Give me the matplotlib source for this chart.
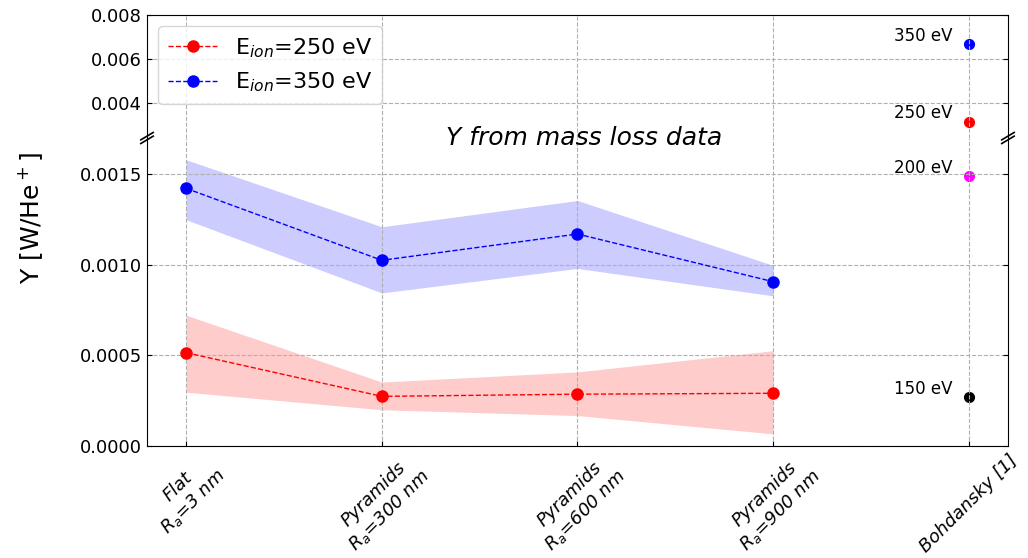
import matplotlib
matplotlib.use("Agg")
import matplotlib.pyplot as plt
import numpy as np

# datos
categorias = ["Flat\n$R_a$=3 nm", "Pyramids\n$R_a$=300 nm", "Pyramids\n$R_a$=600 nm",
              "Pyramids\n$R_a$=900 nm", "Bohdansky [1]"]
x_med = [0, 1, 2, 3]

y_250 = [0.000515, 0.000274, 0.000286, 0.000291]
y_250_sup = [0.000722, 0.000353, 0.000409, 0.000526]
y_250_inf = [0.000297, 0.000200, 0.000168, 0.000067]

y_350 = [0.001422, 0.001025, 0.001170, 0.000907]
y_350_sup = [0.001580, 0.001210, 0.001355, 0.000997]
y_350_inf = [0.001249, 0.000845, 0.000980, 0.000829]

# Bohdansky
bohd_energias = ["150 eV", "200 eV", "250 eV", "350 eV"]
bohd_valores = [0.00027, 0.00149, 0.00314, 0.00668]
bohd_colores = ["black", "magenta", "red", "blue"]

fig = plt.figure(figsize=(10.28, 5.58), dpi=100)
izq, der = 0.143, 0.9805
corte = 1 - 138 / 558
ax_sup = fig.add_axes([izq, corte, der - izq, 0.973 - corte])
ax_inf = fig.add_axes([izq, 0.2007, der - izq, corte - 0.2007])

for ax in (ax_sup, ax_inf):
    ax.grid(True, linestyle="--", color="#b0b0b0", linewidth=0.8)
    ax.set_xlim(-0.2, 4.2)
    ax.set_xticks(range(5))
    ax.tick_params(direction="in", labelsize=13, left=True, right=True)

# medidas (solo se ven en el eje inferior)
ax_inf.fill_between(x_med, y_250_inf, y_250_sup, color="#ff0000", alpha=0.2, linewidth=0)
ax_inf.fill_between(x_med, y_350_inf, y_350_sup, color="#0000ff", alpha=0.2, linewidth=0)
ax_inf.plot(x_med, y_250, "--o", color="red", markersize=8, linewidth=1)
ax_inf.plot(x_med, y_350, "--o", color="blue", markersize=8, linewidth=1)

ax_sup.plot([], [], "--o", color="red", markersize=8, linewidth=1, label="E$_{ion}$=250 eV")
ax_sup.plot([], [], "--o", color="blue", markersize=8, linewidth=1, label="E$_{ion}$=350 eV")

ax_sup.set_ylim(0.0024, 0.008)
ax_inf.set_ylim(0, 0.0017)

for e, v, c in zip(bohd_energias, bohd_valores, bohd_colores):
    ax = ax_sup if v > 0.0017 else ax_inf
    ax.plot(4, v, "o", color=c, markersize=7, zorder=1)
    ax.annotate(e, (4, v), xytext=(-12, 6), textcoords="offset points",
                ha="right", va="center", fontsize=12)

ax_sup.set_yticks([0.004, 0.006, 0.008])
ax_sup.set_yticklabels(["0.004", "0.006", "0.008"])
ax_sup.spines["bottom"].set_visible(False)
ax_sup.tick_params(labelbottom=False, bottom=False)
ax_sup.legend(loc="upper left", fontsize=16, handlelength=2.2, borderpad=0.45)

ax_inf.set_yticks([0, 0.0005, 0.0010, 0.0015])
ax_inf.set_yticklabels(["0.0000", "0.0005", "0.0010", "0.0015"])
ax_inf.spines["top"].set_visible(False)
ax_inf.tick_params(top=False)
ax_inf.set_xticklabels(categorias, rotation=45, ha="center", fontstyle="italic",
                       fontsize=13)

ax_inf.text(0.508, 1.0, "Y from mass loss data", transform=ax_inf.transAxes,
            ha="center", va="center", fontsize=18, fontstyle="italic")

fig.text(0.03, 0.61, "Y [W/He$^+$]", rotation=90, ha="center", va="center", fontsize=18)

# marcas de corte
d = 0.012
for xa in (0, 1):
    for off in (-0.006, 0.006):
        ax_inf.plot([xa - d * 0.6, xa + d * 0.6], [1 + off - d, 1 + off + d],
                    transform=ax_inf.transAxes, color="k", linewidth=1.2, clip_on=False)

fig.savefig("out.png", dpi=100)
